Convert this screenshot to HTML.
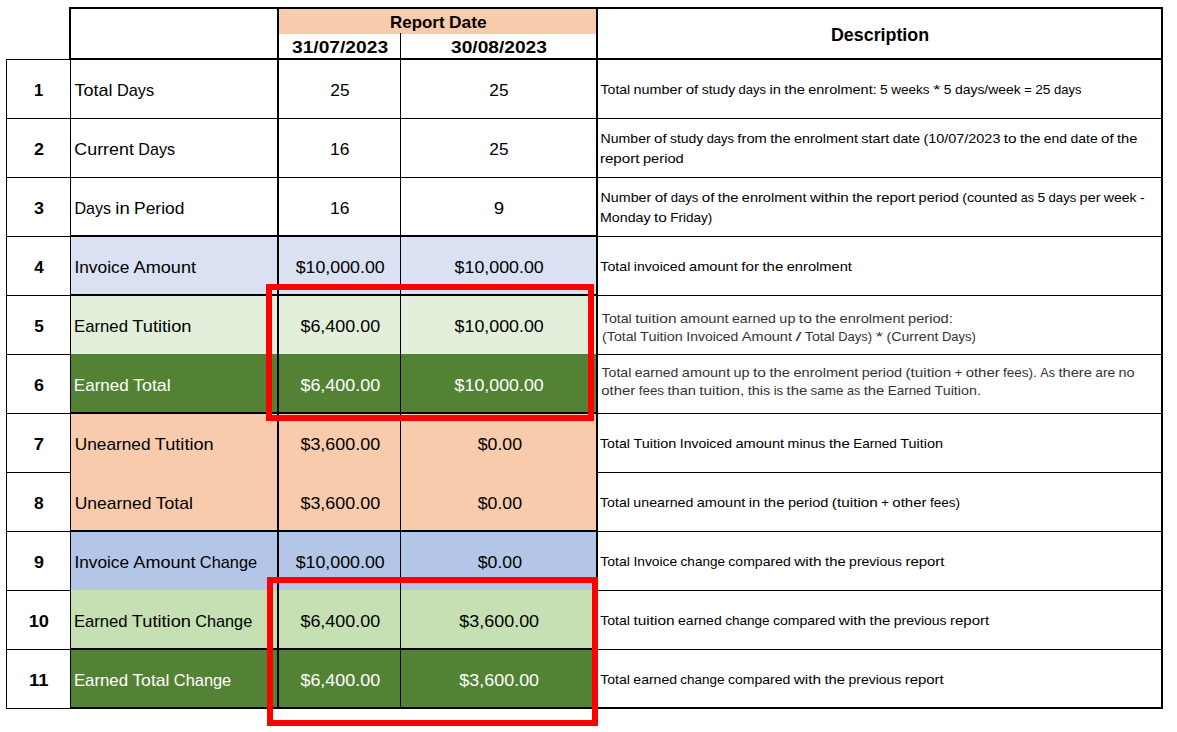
<!DOCTYPE html>
<html lang="en"><head><meta charset="utf-8"><title>Report Date</title><style>
html,body{margin:0;padding:0;background:#fff;overflow:hidden}
svg{display:block;position:absolute;left:0;top:0}
text{font-family:"Liberation Sans",sans-serif;fill:#000;white-space:pre}
.b{font-weight:bold}.w text{fill:#fff}.g text{fill:#333}
</style></head><body>
<svg width="1177" height="732" viewBox="0 0 1177 732">
<rect x="0" y="0" width="1177" height="732" fill="#fff"/>
<g shape-rendering="crispEdges">
<rect x="279" y="9" width="317" height="25" fill="#F8CBAD"/>
<rect x="71" y="237" width="525" height="58" fill="#D9E1F2"/>
<rect x="71" y="296" width="525" height="58" fill="#E2EFDA"/>
<rect x="71" y="354" width="525" height="59" fill="#548235"/>
<rect x="71" y="414" width="525" height="117" fill="#F8CBAD"/>
<rect x="71" y="532" width="525" height="58" fill="#B4C6E7"/>
<rect x="71" y="590" width="525" height="59" fill="#C6E0B4"/>
<rect x="71" y="650" width="525" height="57" fill="#548235"/>
<rect x="69" y="7" width="1094" height="2" fill="#000"/>
<rect x="69" y="58" width="1094" height="2" fill="#000"/>
<rect x="6" y="59" width="65" height="1" fill="#000"/>
<rect x="6" y="118" width="65" height="1" fill="#000"/>
<rect x="6" y="177" width="65" height="1" fill="#000"/>
<rect x="6" y="236" width="65" height="1" fill="#000"/>
<rect x="6" y="295" width="65" height="1" fill="#000"/>
<rect x="6" y="354" width="65" height="1" fill="#000"/>
<rect x="6" y="413" width="65" height="1" fill="#000"/>
<rect x="6" y="472" width="65" height="1" fill="#000"/>
<rect x="6" y="531" width="65" height="1" fill="#000"/>
<rect x="6" y="590" width="65" height="1" fill="#000"/>
<rect x="6" y="649" width="65" height="1" fill="#000"/>
<rect x="6" y="708" width="65" height="1" fill="#000"/>
<rect x="6" y="59" width="1" height="650" fill="#000"/>
<rect x="69" y="7" width="2" height="53" fill="#000"/>
<rect x="70" y="59" width="1" height="650" fill="#000"/>
<rect x="277" y="7" width="2" height="702" fill="#000"/>
<rect x="400" y="33" width="1" height="675" fill="#000"/>
<rect x="596" y="7" width="2" height="702" fill="#000"/>
<rect x="1161" y="7" width="2" height="702" fill="#000"/>
<rect x="70" y="118" width="1092" height="1" fill="#000"/>
<rect x="70" y="177" width="1092" height="1" fill="#000"/>
<rect x="70" y="235" width="527" height="2" fill="#000"/>
<rect x="70" y="294" width="527" height="2" fill="#000"/>
<rect x="70" y="412" width="527" height="2" fill="#000"/>
<rect x="70" y="530" width="527" height="2" fill="#000"/>
<rect x="70" y="648" width="527" height="2" fill="#000"/>
<rect x="70" y="707" width="1093" height="2" fill="#000"/>
<rect x="597" y="236" width="565" height="1" fill="#000"/>
<rect x="597" y="295" width="565" height="1" fill="#000"/>
<rect x="597" y="354" width="565" height="1" fill="#000"/>
<rect x="597" y="413" width="565" height="1" fill="#000"/>
<rect x="597" y="472" width="565" height="1" fill="#000"/>
<rect x="597" y="531" width="565" height="1" fill="#000"/>
<rect x="597" y="590" width="565" height="1" fill="#000"/>
<rect x="597" y="649" width="565" height="1" fill="#000"/>
</g>
<g>
<g class="b" font-size="17">
<text x="390.05" y="28" textLength="54.54" lengthAdjust="spacingAndGlyphs">Report</text>
<text x="448.94" y="28" textLength="37.67" lengthAdjust="spacingAndGlyphs">Date</text>
</g>
<g class="b" font-size="16.75">
<text x="292.03" y="53" textLength="96.05" lengthAdjust="spacingAndGlyphs">31/07/2023</text>
</g>
<g class="b" font-size="16.75">
<text x="451.03" y="53" textLength="95.85" lengthAdjust="spacingAndGlyphs">30/08/2023</text>
</g>
<g class="b" font-size="18.3">
<text x="830.98" y="41" textLength="98.17" lengthAdjust="spacingAndGlyphs">Description</text>
</g>
<g class="b" font-size="16.5">
<text x="34.09" y="96" textLength="9.25" lengthAdjust="spacingAndGlyphs">1</text>
</g>
<g font-size="17">
<text x="74.5" y="96" textLength="38.07" lengthAdjust="spacingAndGlyphs">Total</text>
<text x="116.96" y="96" textLength="37.17" lengthAdjust="spacingAndGlyphs">Days</text>
</g>
<g font-size="16.5">
<text x="330.36" y="96" textLength="19.22" lengthAdjust="spacingAndGlyphs">25</text>
</g>
<g font-size="16.5">
<text x="489.31" y="96" textLength="19.22" lengthAdjust="spacingAndGlyphs">25</text>
</g>
<g font-size="13.4">
<text x="600.64" y="94" textLength="29.56" lengthAdjust="spacingAndGlyphs">Total</text>
<text x="633.62" y="94" textLength="48.67" lengthAdjust="spacingAndGlyphs">number</text>
<text x="685.69" y="94" textLength="12.59" lengthAdjust="spacingAndGlyphs">of</text>
<text x="701.68" y="94" textLength="33.53" lengthAdjust="spacingAndGlyphs">study</text>
<text x="738.61" y="94" textLength="27.51" lengthAdjust="spacingAndGlyphs">days</text>
<text x="769.53" y="94" textLength="11.41" lengthAdjust="spacingAndGlyphs">in</text>
<text x="784.34" y="94" textLength="20.52" lengthAdjust="spacingAndGlyphs">the</text>
<text x="808.28" y="94" textLength="68.41" lengthAdjust="spacingAndGlyphs">enrolment:</text>
<text x="880.08" y="94" textLength="7.67" lengthAdjust="spacingAndGlyphs">5</text>
<text x="891.16" y="94" textLength="38.35" lengthAdjust="spacingAndGlyphs">weeks</text>
<text x="932.91" y="94" textLength="7.53" lengthAdjust="spacingAndGlyphs">*</text>
<text x="943.85" y="94" textLength="7.66" lengthAdjust="spacingAndGlyphs">5</text>
<text x="954.92" y="94" textLength="65.9" lengthAdjust="spacingAndGlyphs">days/week</text>
<text x="1024.24" y="94" textLength="7.53" lengthAdjust="spacingAndGlyphs">=</text>
<text x="1035.18" y="94" textLength="15.32" lengthAdjust="spacingAndGlyphs">25</text>
<text x="1053.91" y="94" textLength="27.5" lengthAdjust="spacingAndGlyphs">days</text>
</g>
<g class="b" font-size="16.5">
<text x="34.11" y="155" textLength="9.99" lengthAdjust="spacingAndGlyphs">2</text>
</g>
<g font-size="17">
<text x="74.35" y="155" textLength="59.54" lengthAdjust="spacingAndGlyphs">Current</text>
<text x="138.24" y="155" textLength="36.81" lengthAdjust="spacingAndGlyphs">Days</text>
</g>
<g font-size="16.5">
<text x="330.03" y="155" textLength="19.36" lengthAdjust="spacingAndGlyphs">16</text>
</g>
<g font-size="16.5">
<text x="489.31" y="155" textLength="19.22" lengthAdjust="spacingAndGlyphs">25</text>
</g>
<g font-size="13.4">
<text x="600.55" y="143" textLength="50.15" lengthAdjust="spacingAndGlyphs">Number</text>
<text x="654.09" y="143" textLength="12.5" lengthAdjust="spacingAndGlyphs">of</text>
<text x="669.98" y="143" textLength="33.3" lengthAdjust="spacingAndGlyphs">study</text>
<text x="706.68" y="143" textLength="27.32" lengthAdjust="spacingAndGlyphs">days</text>
<text x="737.39" y="143" textLength="29.49" lengthAdjust="spacingAndGlyphs">from</text>
<text x="770.26" y="143" textLength="20.39" lengthAdjust="spacingAndGlyphs">the</text>
<text x="794.04" y="143" textLength="63.95" lengthAdjust="spacingAndGlyphs">enrolment</text>
<text x="861.36" y="143" textLength="28.01" lengthAdjust="spacingAndGlyphs">start</text>
<text x="892.75" y="143" textLength="27.29" lengthAdjust="spacingAndGlyphs">date</text>
<text x="923.42" y="143" textLength="77.02" lengthAdjust="spacingAndGlyphs">(10/07/2023</text>
<text x="1003.83" y="143" textLength="12.81" lengthAdjust="spacingAndGlyphs">to</text>
<text x="1020.01" y="143" textLength="20.39" lengthAdjust="spacingAndGlyphs">the</text>
<text x="1043.79" y="143" textLength="23.24" lengthAdjust="spacingAndGlyphs">end</text>
<text x="1070.42" y="143" textLength="27.28" lengthAdjust="spacingAndGlyphs">date</text>
<text x="1101.09" y="143" textLength="12.5" lengthAdjust="spacingAndGlyphs">of</text>
<text x="1116.98" y="143" textLength="20.39" lengthAdjust="spacingAndGlyphs">the</text>
</g>
<g font-size="13.4">
<text x="599.9" y="163" textLength="39.53" lengthAdjust="spacingAndGlyphs">report</text>
<text x="642.91" y="163" textLength="40.83" lengthAdjust="spacingAndGlyphs">period</text>
</g>
<g class="b" font-size="16.5">
<text x="34.11" y="214" textLength="9.99" lengthAdjust="spacingAndGlyphs">3</text>
</g>
<g font-size="17">
<text x="74.51" y="214" textLength="36.54" lengthAdjust="spacingAndGlyphs">Days</text>
<text x="115.37" y="214" textLength="14.45" lengthAdjust="spacingAndGlyphs">in</text>
<text x="134.14" y="214" textLength="50.22" lengthAdjust="spacingAndGlyphs">Period</text>
</g>
<g font-size="16.5">
<text x="330.03" y="214" textLength="19.36" lengthAdjust="spacingAndGlyphs">16</text>
</g>
<g font-size="16.5">
<text x="493.75" y="214" textLength="10.43" lengthAdjust="spacingAndGlyphs">9</text>
</g>
<g font-size="13.4">
<text x="600.55" y="202" textLength="50.69" lengthAdjust="spacingAndGlyphs">Number</text>
<text x="654.67" y="202" textLength="12.63" lengthAdjust="spacingAndGlyphs">of</text>
<text x="670.73" y="202" textLength="27.63" lengthAdjust="spacingAndGlyphs">days</text>
<text x="701.77" y="202" textLength="12.65" lengthAdjust="spacingAndGlyphs">of</text>
<text x="717.82" y="202" textLength="20.61" lengthAdjust="spacingAndGlyphs">the</text>
<text x="741.86" y="202" textLength="64.63" lengthAdjust="spacingAndGlyphs">enrolment</text>
<text x="809.91" y="202" textLength="38.84" lengthAdjust="spacingAndGlyphs">within</text>
<text x="852.17" y="202" textLength="20.61" lengthAdjust="spacingAndGlyphs">the</text>
<text x="876.2" y="202" textLength="38.98" lengthAdjust="spacingAndGlyphs">report</text>
<text x="918.61" y="202" textLength="40.27" lengthAdjust="spacingAndGlyphs">period</text>
<text x="962.29" y="202" textLength="55.13" lengthAdjust="spacingAndGlyphs">(counted</text>
<text x="1020.85" y="202" textLength="13.2" lengthAdjust="spacingAndGlyphs">as</text>
<text x="1037.48" y="202" textLength="7.69" lengthAdjust="spacingAndGlyphs">5</text>
<text x="1048.6" y="202" textLength="27.63" lengthAdjust="spacingAndGlyphs">days</text>
<text x="1079.64" y="202" textLength="20.82" lengthAdjust="spacingAndGlyphs">per</text>
<text x="1103.88" y="202" textLength="32.72" lengthAdjust="spacingAndGlyphs">week</text>
<text x="1140.01" y="202" textLength="4.66" lengthAdjust="spacingAndGlyphs">-</text>
</g>
<g font-size="13.4">
<text x="600.06" y="222" textLength="50.49" lengthAdjust="spacingAndGlyphs">Monday</text>
<text x="653.95" y="222" textLength="12.87" lengthAdjust="spacingAndGlyphs">to</text>
<text x="670.22" y="222" textLength="41.94" lengthAdjust="spacingAndGlyphs">Friday)</text>
</g>
<g class="b" font-size="16.5">
<text x="34.24" y="273" textLength="9.45" lengthAdjust="spacingAndGlyphs">4</text>
</g>
<g font-size="17">
<text x="74.43" y="273" textLength="54.84" lengthAdjust="spacingAndGlyphs">Invoice</text>
<text x="133.57" y="273" textLength="62.49" lengthAdjust="spacingAndGlyphs">Amount</text>
</g>
<g font-size="16.5">
<text x="295.68" y="273" textLength="89.11" lengthAdjust="spacingAndGlyphs">$10,000.00</text>
</g>
<g font-size="16.5">
<text x="454.63" y="273" textLength="89.11" lengthAdjust="spacingAndGlyphs">$10,000.00</text>
</g>
<g font-size="13.4">
<text x="600.33" y="271" textLength="29.97" lengthAdjust="spacingAndGlyphs">Total</text>
<text x="633.76" y="271" textLength="51.81" lengthAdjust="spacingAndGlyphs">invoiced</text>
<text x="689.03" y="271" textLength="48.73" lengthAdjust="spacingAndGlyphs">amount</text>
<text x="741.21" y="271" textLength="17.78" lengthAdjust="spacingAndGlyphs">for</text>
<text x="762.43" y="271" textLength="20.8" lengthAdjust="spacingAndGlyphs">the</text>
<text x="786.69" y="271" textLength="65.24" lengthAdjust="spacingAndGlyphs">enrolment</text>
</g>
<g class="b" font-size="16.5">
<text x="34.18" y="332" textLength="9.58" lengthAdjust="spacingAndGlyphs">5</text>
</g>
<g font-size="17">
<text x="74.06" y="332" textLength="53.9" lengthAdjust="spacingAndGlyphs">Earned</text>
<text x="132.24" y="332" textLength="59.3" lengthAdjust="spacingAndGlyphs">Tutition</text>
</g>
<g font-size="16.5">
<text x="300.43" y="332" textLength="79.68" lengthAdjust="spacingAndGlyphs">$6,400.00</text>
</g>
<g font-size="16.5">
<text x="454.63" y="332" textLength="89.11" lengthAdjust="spacingAndGlyphs">$10,000.00</text>
</g>
<g class="g" font-size="13.4">
<text x="601.83" y="323" textLength="29.9" lengthAdjust="spacingAndGlyphs">Total</text>
<text x="635.17" y="323" textLength="41.36" lengthAdjust="spacingAndGlyphs">tuition</text>
<text x="679.98" y="323" textLength="48.62" lengthAdjust="spacingAndGlyphs">amount</text>
<text x="732.03" y="323" textLength="43.91" lengthAdjust="spacingAndGlyphs">earned</text>
<text x="779.39" y="323" textLength="16.06" lengthAdjust="spacingAndGlyphs">up</text>
<text x="798.89" y="323" textLength="13.03" lengthAdjust="spacingAndGlyphs">to</text>
<text x="815.37" y="323" textLength="20.75" lengthAdjust="spacingAndGlyphs">the</text>
<text x="839.56" y="323" textLength="65.09" lengthAdjust="spacingAndGlyphs">enrolment</text>
<text x="908.09" y="323" textLength="44.63" lengthAdjust="spacingAndGlyphs">period:</text>
</g>
<g class="g" font-size="13.4">
<text x="602.12" y="341" textLength="34.56" lengthAdjust="spacingAndGlyphs">(Total</text>
<text x="640.12" y="341" textLength="42.78" lengthAdjust="spacingAndGlyphs">Tuition</text>
<text x="686.34" y="341" textLength="52.07" lengthAdjust="spacingAndGlyphs">Invoiced</text>
<text x="741.85" y="341" textLength="50.17" lengthAdjust="spacingAndGlyphs">Amount</text>
<text x="795.46" y="341" textLength="5.91" lengthAdjust="spacingAndGlyphs">/</text>
<text x="804.82" y="341" textLength="29.93" lengthAdjust="spacingAndGlyphs">Total</text>
<text x="838.19" y="341" textLength="33.84" lengthAdjust="spacingAndGlyphs">Days)</text>
<text x="875.49" y="341" textLength="7.62" lengthAdjust="spacingAndGlyphs">*</text>
<text x="886.56" y="341" textLength="51.9" lengthAdjust="spacingAndGlyphs">(Current</text>
<text x="941.9" y="341" textLength="33.84" lengthAdjust="spacingAndGlyphs">Days)</text>
</g>
<g class="b" font-size="16.5">
<text x="34.11" y="391" textLength="9.99" lengthAdjust="spacingAndGlyphs">6</text>
</g>
<g class="w" font-size="17">
<text x="73.87" y="391" textLength="54.85" lengthAdjust="spacingAndGlyphs">Earned</text>
<text x="133.07" y="391" textLength="37.71" lengthAdjust="spacingAndGlyphs">Total</text>
</g>
<g class="w" font-size="16.5">
<text x="300.43" y="391" textLength="79.68" lengthAdjust="spacingAndGlyphs">$6,400.00</text>
</g>
<g class="w" font-size="16.5">
<text x="454.63" y="391" textLength="89.11" lengthAdjust="spacingAndGlyphs">$10,000.00</text>
</g>
<g class="g" font-size="13.4">
<text x="601.54" y="377" textLength="29.75" lengthAdjust="spacingAndGlyphs">Total</text>
<text x="634.72" y="377" textLength="43.69" lengthAdjust="spacingAndGlyphs">earned</text>
<text x="681.83" y="377" textLength="48.38" lengthAdjust="spacingAndGlyphs">amount</text>
<text x="733.64" y="377" textLength="15.99" lengthAdjust="spacingAndGlyphs">up</text>
<text x="753.05" y="377" textLength="12.97" lengthAdjust="spacingAndGlyphs">to</text>
<text x="769.44" y="377" textLength="20.65" lengthAdjust="spacingAndGlyphs">the</text>
<text x="793.53" y="377" textLength="64.76" lengthAdjust="spacingAndGlyphs">enrolment</text>
<text x="861.72" y="377" textLength="40.34" lengthAdjust="spacingAndGlyphs">period</text>
<text x="905.5" y="377" textLength="45.77" lengthAdjust="spacingAndGlyphs">(tuition</text>
<text x="954.69" y="377" textLength="7.59" lengthAdjust="spacingAndGlyphs">+</text>
<text x="965.7" y="377" textLength="33.98" lengthAdjust="spacingAndGlyphs">other</text>
<text x="1003.09" y="377" textLength="33.79" lengthAdjust="spacingAndGlyphs">fees).</text>
<text x="1040.31" y="377" textLength="14.75" lengthAdjust="spacingAndGlyphs">As</text>
<text x="1058.48" y="377" textLength="33.32" lengthAdjust="spacingAndGlyphs">there</text>
<text x="1095.23" y="377" textLength="19.95" lengthAdjust="spacingAndGlyphs">are</text>
<text x="1118.61" y="377" textLength="16.01" lengthAdjust="spacingAndGlyphs">no</text>
</g>
<g class="g" font-size="13.4">
<text x="601.28" y="395" textLength="33.98" lengthAdjust="spacingAndGlyphs">other</text>
<text x="638.69" y="395" textLength="25.36" lengthAdjust="spacingAndGlyphs">fees</text>
<text x="667.48" y="395" textLength="28.38" lengthAdjust="spacingAndGlyphs">than</text>
<text x="699.27" y="395" textLength="44.97" lengthAdjust="spacingAndGlyphs">tuition,</text>
<text x="747.68" y="395" textLength="22.53" lengthAdjust="spacingAndGlyphs">this</text>
<text x="773.65" y="395" textLength="9.45" lengthAdjust="spacingAndGlyphs">is</text>
<text x="786.53" y="395" textLength="20.66" lengthAdjust="spacingAndGlyphs">the</text>
<text x="810.61" y="395" textLength="32.96" lengthAdjust="spacingAndGlyphs">same</text>
<text x="847.01" y="395" textLength="13.24" lengthAdjust="spacingAndGlyphs">as</text>
<text x="863.68" y="395" textLength="20.66" lengthAdjust="spacingAndGlyphs">the</text>
<text x="887.76" y="395" textLength="43.32" lengthAdjust="spacingAndGlyphs">Earned</text>
<text x="934.52" y="395" textLength="46.39" lengthAdjust="spacingAndGlyphs">Tuition.</text>
</g>
<g class="b" font-size="16.5">
<text x="33.81" y="450" textLength="10.31" lengthAdjust="spacingAndGlyphs">7</text>
</g>
<g font-size="17">
<text x="74.71" y="450" textLength="75.87" lengthAdjust="spacingAndGlyphs">Unearned</text>
<text x="154.82" y="450" textLength="58.83" lengthAdjust="spacingAndGlyphs">Tutition</text>
</g>
<g font-size="16.5">
<text x="300.43" y="450" textLength="79.68" lengthAdjust="spacingAndGlyphs">$3,600.00</text>
</g>
<g font-size="16.5">
<text x="477.68" y="450" textLength="44.36" lengthAdjust="spacingAndGlyphs">$0.00</text>
</g>
<g font-size="13.4">
<text x="600.04" y="448" textLength="29.98" lengthAdjust="spacingAndGlyphs">Total</text>
<text x="633.48" y="448" textLength="42.86" lengthAdjust="spacingAndGlyphs">Tuition</text>
<text x="679.79" y="448" textLength="52.18" lengthAdjust="spacingAndGlyphs">Invoiced</text>
<text x="735.43" y="448" textLength="48.74" lengthAdjust="spacingAndGlyphs">amount</text>
<text x="787.63" y="448" textLength="37.84" lengthAdjust="spacingAndGlyphs">minus</text>
<text x="828.93" y="448" textLength="20.81" lengthAdjust="spacingAndGlyphs">the</text>
<text x="853.19" y="448" textLength="43.63" lengthAdjust="spacingAndGlyphs">Earned</text>
<text x="900.28" y="448" textLength="42.86" lengthAdjust="spacingAndGlyphs">Tuition</text>
</g>
<g class="b" font-size="16.5">
<text x="34.12" y="509" textLength="9.69" lengthAdjust="spacingAndGlyphs">8</text>
</g>
<g font-size="17">
<text x="74.71" y="509" textLength="76.78" lengthAdjust="spacingAndGlyphs">Unearned</text>
<text x="155.78" y="509" textLength="37.2" lengthAdjust="spacingAndGlyphs">Total</text>
</g>
<g font-size="16.5">
<text x="300.43" y="509" textLength="79.68" lengthAdjust="spacingAndGlyphs">$3,600.00</text>
</g>
<g font-size="16.5">
<text x="477.68" y="509" textLength="44.36" lengthAdjust="spacingAndGlyphs">$0.00</text>
</g>
<g font-size="13.4">
<text x="600.03" y="507" textLength="29.88" lengthAdjust="spacingAndGlyphs">Total</text>
<text x="633.36" y="507" textLength="59.93" lengthAdjust="spacingAndGlyphs">unearned</text>
<text x="696.72" y="507" textLength="48.6" lengthAdjust="spacingAndGlyphs">amount</text>
<text x="748.75" y="507" textLength="11.53" lengthAdjust="spacingAndGlyphs">in</text>
<text x="763.73" y="507" textLength="20.74" lengthAdjust="spacingAndGlyphs">the</text>
<text x="787.91" y="507" textLength="40.53" lengthAdjust="spacingAndGlyphs">period</text>
<text x="831.89" y="507" textLength="45.97" lengthAdjust="spacingAndGlyphs">(tuition</text>
<text x="881.3" y="507" textLength="7.62" lengthAdjust="spacingAndGlyphs">+</text>
<text x="892.36" y="507" textLength="34.11" lengthAdjust="spacingAndGlyphs">other</text>
<text x="929.92" y="507" textLength="30.08" lengthAdjust="spacingAndGlyphs">fees)</text>
</g>
<g class="b" font-size="16.5">
<text x="34.11" y="568" textLength="9.99" lengthAdjust="spacingAndGlyphs">9</text>
</g>
<g font-size="17">
<text x="74.48" y="568" textLength="54.61" lengthAdjust="spacingAndGlyphs">Invoice</text>
<text x="133.37" y="568" textLength="62.22" lengthAdjust="spacingAndGlyphs">Amount</text>
<text x="199.85" y="568" textLength="57.32" lengthAdjust="spacingAndGlyphs">Change</text>
</g>
<g font-size="16.5">
<text x="295.68" y="568" textLength="89.11" lengthAdjust="spacingAndGlyphs">$10,000.00</text>
</g>
<g font-size="16.5">
<text x="477.68" y="568" textLength="44.36" lengthAdjust="spacingAndGlyphs">$0.00</text>
</g>
<g font-size="13.4">
<text x="600.24" y="566" textLength="29.75" lengthAdjust="spacingAndGlyphs">Total</text>
<text x="633.42" y="566" textLength="43.8" lengthAdjust="spacingAndGlyphs">Invoice</text>
<text x="680.64" y="566" textLength="44.29" lengthAdjust="spacingAndGlyphs">change</text>
<text x="728.37" y="566" textLength="62.39" lengthAdjust="spacingAndGlyphs">compared</text>
<text x="794.19" y="566" textLength="27.44" lengthAdjust="spacingAndGlyphs">with</text>
<text x="825.05" y="566" textLength="20.65" lengthAdjust="spacingAndGlyphs">the</text>
<text x="849.13" y="566" textLength="52.9" lengthAdjust="spacingAndGlyphs">previous</text>
<text x="905.45" y="566" textLength="39.07" lengthAdjust="spacingAndGlyphs">report</text>
</g>
<g class="b" font-size="16.5">
<text x="28.65" y="627" textLength="20.28" lengthAdjust="spacingAndGlyphs">10</text>
</g>
<g font-size="17">
<text x="73.9" y="627" textLength="53.7" lengthAdjust="spacingAndGlyphs">Earned</text>
<text x="131.86" y="627" textLength="59.08" lengthAdjust="spacingAndGlyphs">Tutition</text>
<text x="195.2" y="627" textLength="57.02" lengthAdjust="spacingAndGlyphs">Change</text>
</g>
<g font-size="16.5">
<text x="300.43" y="627" textLength="79.68" lengthAdjust="spacingAndGlyphs">$6,400.00</text>
</g>
<g font-size="16.5">
<text x="459.38" y="627" textLength="79.68" lengthAdjust="spacingAndGlyphs">$3,600.00</text>
</g>
<g font-size="13.4">
<text x="600.24" y="625" textLength="29.76" lengthAdjust="spacingAndGlyphs">Total</text>
<text x="633.44" y="625" textLength="41.18" lengthAdjust="spacingAndGlyphs">tuition</text>
<text x="678.04" y="625" textLength="43.71" lengthAdjust="spacingAndGlyphs">earned</text>
<text x="725.18" y="625" textLength="44.3" lengthAdjust="spacingAndGlyphs">change</text>
<text x="772.91" y="625" textLength="62.42" lengthAdjust="spacingAndGlyphs">compared</text>
<text x="838.75" y="625" textLength="27.46" lengthAdjust="spacingAndGlyphs">with</text>
<text x="869.64" y="625" textLength="20.66" lengthAdjust="spacingAndGlyphs">the</text>
<text x="893.72" y="625" textLength="52.91" lengthAdjust="spacingAndGlyphs">previous</text>
<text x="950.06" y="625" textLength="39.09" lengthAdjust="spacingAndGlyphs">report</text>
</g>
<g class="b" font-size="16.5">
<text x="28.93" y="686" textLength="19.53" lengthAdjust="spacingAndGlyphs">11</text>
</g>
<g class="w" font-size="17">
<text x="73.92" y="686" textLength="54.11" lengthAdjust="spacingAndGlyphs">Earned</text>
<text x="132.32" y="686" textLength="37.2" lengthAdjust="spacingAndGlyphs">Total</text>
<text x="173.8" y="686" textLength="57.46" lengthAdjust="spacingAndGlyphs">Change</text>
</g>
<g class="w" font-size="16.5">
<text x="300.43" y="686" textLength="79.68" lengthAdjust="spacingAndGlyphs">$6,400.00</text>
</g>
<g class="w" font-size="16.5">
<text x="459.38" y="686" textLength="79.68" lengthAdjust="spacingAndGlyphs">$3,600.00</text>
</g>
<g font-size="13.4">
<text x="600.24" y="684" textLength="29.69" lengthAdjust="spacingAndGlyphs">Total</text>
<text x="633.36" y="684" textLength="43.61" lengthAdjust="spacingAndGlyphs">earned</text>
<text x="680.38" y="684" textLength="44.2" lengthAdjust="spacingAndGlyphs">change</text>
<text x="728.0" y="684" textLength="62.26" lengthAdjust="spacingAndGlyphs">compared</text>
<text x="793.69" y="684" textLength="27.39" lengthAdjust="spacingAndGlyphs">with</text>
<text x="824.5" y="684" textLength="20.61" lengthAdjust="spacingAndGlyphs">the</text>
<text x="848.54" y="684" textLength="52.78" lengthAdjust="spacingAndGlyphs">previous</text>
<text x="904.75" y="684" textLength="38.98" lengthAdjust="spacingAndGlyphs">report</text>
</g>
</g>
<g shape-rendering="crispEdges" fill="none" stroke="#FF0000" stroke-width="6">
<rect x="269" y="287" width="322" height="131"/>
<rect x="270" y="580" width="325" height="143"/>
</g></svg></body></html>
